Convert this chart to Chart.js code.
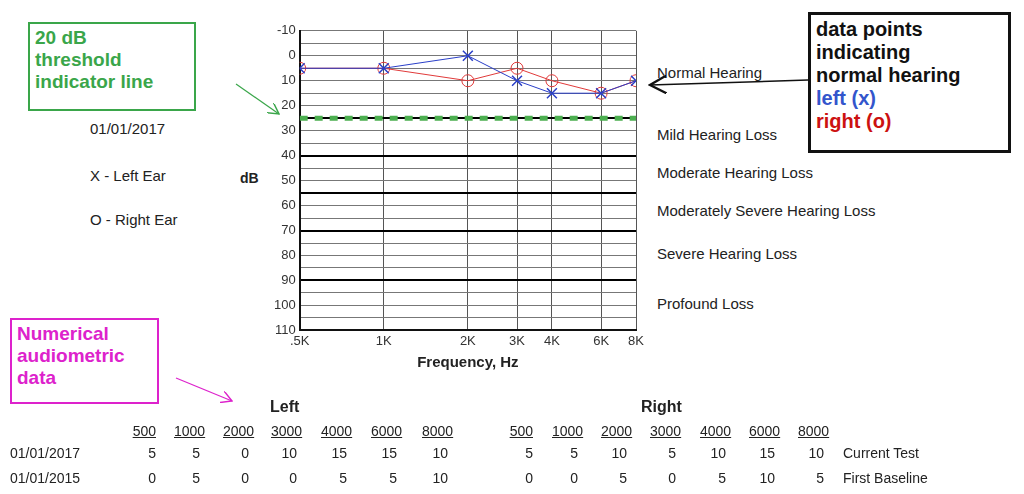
<!DOCTYPE html>
<html>
<head>
<meta charset="utf-8">
<script src="https://cdn.jsdelivr.net/npm/chart.js@4.4.1/dist/chart.umd.min.js"></script>
<style>
  body { margin: 0; background: #fff; font-family: "Liberation Sans", Arial, sans-serif; }
  #page { position: relative; width: 1024px; height: 494px; overflow: hidden; }
  .t { position: absolute; font-size: 15px; color: #222; white-space: nowrap; line-height: 1; }
  .box { position: absolute; border: 2px solid; background: #fff; font-weight: bold; font-size: 19px; line-height: 1.15; padding: 3px 5px; box-sizing: border-box; }
  #wrap { position: absolute; left: 270px; top: 19px; width: 382px; height: 357px; }
  .num { position: absolute; font-size: 14px; color: #222; width: 30px; text-align: right; }
  .hdr { text-decoration: underline; }
</style>
</head>
<body>
<div id="page">
  <div id="wrap"><canvas id="myChart"></canvas></div>

  <div class="t" style="left:90px;top:121px">01/01/2017</div>
  <div class="t" style="left:90px;top:168px">X - Left Ear</div>
  <div class="t" style="left:90px;top:212px">O - Right Ear</div>
  <div class="t" style="left:240px;top:171px;font-weight:bold;font-size:14px">dB</div>

  <div class="t" style="left:657px;top:65px">Normal Hearing</div>
  <div class="t" style="left:657px;top:127px">Mild Hearing Loss</div>
  <div class="t" style="left:657px;top:165px">Moderate Hearing Loss</div>
  <div class="t" style="left:657px;top:203px">Moderately Severe Hearing Loss</div>
  <div class="t" style="left:657px;top:246px">Severe Hearing Loss</div>
  <div class="t" style="left:657px;top:296px">Profound Loss</div>

  <div class="box" style="left:28px;top:22px;width:168px;height:89px;border-color:#3aa64a;color:#3aa64a">20 dB<br>threshold<br>indicator line</div>
  <div class="box" style="left:808px;top:12px;width:203px;height:141px;border:3px solid #111;color:#111;font-size:20px">data points<br>indicating<br>normal hearing<br><span style="color:#3355cc">left (x)</span><br><span style="color:#cc1111">right (o)</span></div>
  <div class="box" style="left:10px;top:318px;width:149px;height:86px;border-color:#dd22cc;color:#dd22cc">Numerical<br>audiometric<br>data</div>

  <svg width="1024" height="494" style="position:absolute;left:0;top:0;pointer-events:none">
    <defs>
      <marker id="ag" markerWidth="10" markerHeight="10" refX="9" refY="5" orient="auto"><path d="M0,0 L9,5 L0,10" fill="none" stroke="#3aa64a" stroke-width="1.2"/></marker>
      <marker id="ak" markerWidth="12" markerHeight="12" refX="11" refY="6" orient="auto"><path d="M0,0 L11,6 L0,12" fill="none" stroke="#111" stroke-width="1.5"/></marker>
      <marker id="am" markerWidth="10" markerHeight="10" refX="9" refY="5" orient="auto"><path d="M0,0 L9,5 L0,10" fill="none" stroke="#dd22cc" stroke-width="1.2"/></marker>
    </defs>
    <line x1="236" y1="84" x2="279" y2="114" stroke="#3aa64a" stroke-width="1.2" marker-end="url(#ag)"/>
    <line x1="808" y1="80" x2="650" y2="85" stroke="#111" stroke-width="1.5" marker-end="url(#ak)"/>
    <line x1="176" y1="378" x2="232" y2="401" stroke="#dd22cc" stroke-width="1.2" marker-end="url(#am)"/>
  </svg>

  <div class="t" style="left:270px;top:399px;font-weight:bold;font-size:16px">Left</div>
  <div class="t" style="left:641px;top:399px;font-weight:bold;font-size:16px">Right</div>
  <div id="table"></div>
</div>

<script>
// audiogram data
const freqs = [500, 1000, 2000, 3000, 4000, 6000, 8000];
const freqLabels = ['.5K', '1K', '2K', '3K', '4K', '6K', '8K'];
const leftEar = [5, 5, 0, 10, 15, 15, 10];
const rightEar = [5, 5, 10, 5, 10, 15, 10];
const baselineLeft = [0, 5, 0, 0, 5, 5, 10];
const baselineRight = [0, 0, 5, 0, 5, 10, 5];
const thresholdDb = 25;
const bandLines = [25, 40, 55, 70, 90];

const oct = f => Math.log2(f / 500);

// numeric table below the chart
const leftCols = [138, 182, 231, 279, 329, 379, 430];
const rightCols = [515, 560, 609, 658, 708, 757, 806];
const tbl = document.getElementById('table');
function cell(txt, cx, y, cls) {
  const d = document.createElement('div');
  d.className = 'num' + (cls ? ' ' + cls : '');
  d.style.left = (cx - 12) + 'px';
  d.style.top = y + 'px';
  d.textContent = txt;
  tbl.appendChild(d);
}
freqs.forEach((f, i) => {
  cell(f, leftCols[i] + (f >= 1000 ? 4 : 0), 423, 'hdr');
  cell(f, rightCols[i] + (f >= 1000 ? 4 : 0), 423, 'hdr');
  cell(leftEar[i], leftCols[i], 445);
  cell(rightEar[i], rightCols[i], 445);
  cell(baselineLeft[i], leftCols[i], 470);
  cell(baselineRight[i], rightCols[i], 470);
});
[['01/01/2017', 445, 'Current Test'], ['01/01/2015', 470, 'First Baseline']].forEach(r => {
  const a = document.createElement('div');
  a.className = 't'; a.style.fontSize = '14px';
  a.style.left = '10px'; a.style.top = (r[1] + 1) + 'px'; a.textContent = r[0];
  tbl.appendChild(a);
  const b = a.cloneNode(); b.style.left = '843px'; b.textContent = r[2];
  tbl.appendChild(b);
});

new Chart(document.getElementById('myChart'), {
  type: 'line',
  data: {
    datasets: [
      {
        data: [{ x: 0, y: thresholdDb }, { x: 4, y: thresholdDb }],
        borderColor: '#4caf50', borderWidth: 5, borderDash: [8, 7],
        pointRadius: 0, order: 3
      },
      {
        data: freqs.map((f, i) => ({ x: oct(f), y: rightEar[i] })),
        borderColor: '#e03a3a', borderWidth: 1, pointStyle: 'circle',
        pointRadius: 6, pointBorderWidth: 1, pointBackgroundColor: 'rgba(0,0,0,0)',
        pointBorderColor: '#e03a3a', order: 2
      },
      {
        data: freqs.map((f, i) => ({ x: oct(f), y: leftEar[i] })),
        borderColor: '#2a3fc8', borderWidth: 1, pointStyle: 'crossRot',
        pointRadius: 7, pointBorderWidth: 1.5, pointBorderColor: '#2a3fc8', order: 1
      }
    ]
  },
  options: {
    responsive: true,
    maintainAspectRatio: false,
    animation: { duration: 0 },
    plugins: { legend: { display: false }, tooltip: { enabled: false } },
    layout: { padding: { right: 16 } },
    scales: {
      x: {
        type: 'linear', min: 0, max: 4,
        afterBuildTicks: ax => { ax.ticks = freqs.map(f => ({ value: oct(f) })); },
        ticks: {
          autoSkip: false, maxRotation: 0, color: '#333', font: { size: 13 },
          callback: (v, i) => freqLabels[i]
        },
        grid: { color: '#555', lineWidth: 1, drawTicks: false },
        border: { color: '#111', width: 2 },
        title: { display: true, text: 'Frequency, Hz', color: '#222', font: { size: 15, weight: 'bold' }, padding: { top: 2 } }
      },
      y: {
        reverse: true, min: -10, max: 110,
        ticks: {
          stepSize: 5, autoSkip: false, color: '#333', font: { size: 13 }, padding: 4,
          callback: v => (v % 10 === 0 ? v : '')
        },
        grid: {
          drawTicks: false,
          color: ctx => bandLines.includes(ctx.tick.value) ? '#000' : '#777',
          lineWidth: ctx => bandLines.includes(ctx.tick.value) ? 2 : 1
        },
        border: { color: '#111', width: 2 }
      }
    }
  }
});
</script>
</body>
</html>
